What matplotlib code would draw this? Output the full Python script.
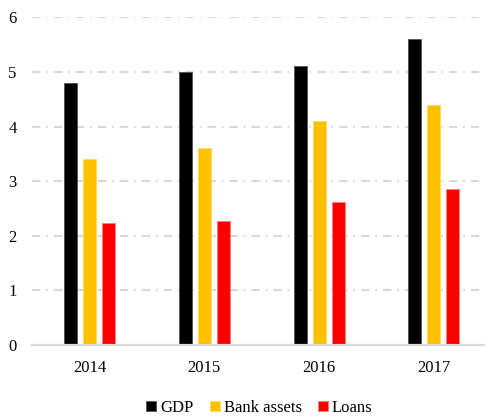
import matplotlib
matplotlib.use("Agg")
import matplotlib.pyplot as plt
import numpy as np

years = ["2014", "2015", "2016", "2017"]
gdp = [4.8, 5.0, 5.1, 5.6]
bank_assets = [3.4, 3.6, 4.1, 4.4]
loans = [2.24, 2.27, 2.62, 2.86]

series = [("GDP", gdp, "#000000", "#595959"),
          ("Bank assets", bank_assets, "#ffc000", "#ffd966"),
          ("Loans", loans, "#ff0000", "#ff7c80")]

plt.rcParams['font.family'] = ['Liberation Serif', 'DejaVu Serif']
plt.rcParams['lines.scale_dashes'] = False

fig = plt.figure(figsize=(4.87, 4.19), dpi=100)
ax = fig.add_axes([32/487, 74/419, 452/487, (345-17.3)/419])

x = np.arange(len(years))
width = 0.113
step = 0.1655
for i, (name, vals, col, edge) in enumerate(series):
    ax.bar(x + (i - 1) * step, vals, width, color=col, edgecolor=edge,
           linewidth=0.7, label=name, zorder=3)

ax.set_ylim(0, 6)
ax.set_xlim(-0.5, 3.437)
ax.set_yticks(range(7))
ax.set_xticks(x)
ax.set_xticklabels(years)

for y in range(1, 7):
    ax.axhline(y, color="#d9d9d9", lw=1.5, dashes=(6, 4.2, 1.2, 4.4), zorder=1)
ax.axhline(0, color="#d9d9d9", lw=1.6, zorder=4, clip_on=False)

for s in ax.spines.values():
    s.set_visible(False)
ax.tick_params(axis="both", length=0, labelsize=12, colors="#000000")
ax.tick_params(axis="y", pad=11)
ax.tick_params(axis="x", pad=11)

fig.legend(loc="center", bbox_to_anchor=(259.5/487, 11/419), ncol=3, frameon=False,
           fontsize=12, handlelength=0.6, handleheight=0.6,
           handletextpad=0.25, columnspacing=0.95, borderpad=0)

fig.savefig("out.png", dpi=100)
